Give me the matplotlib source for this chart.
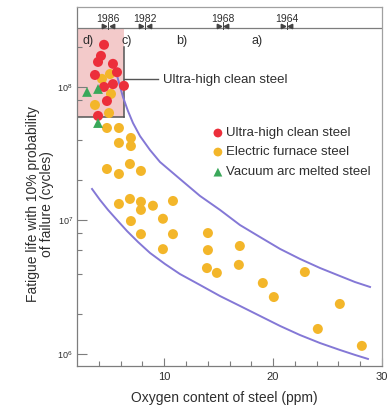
import numpy as np
import matplotlib
matplotlib.use("Agg")
import matplotlib.pyplot as plt
from matplotlib.patches import Rectangle
from matplotlib.ticker import FixedLocator, LogLocator, NullFormatter, FuncFormatter
import matplotlib.transforms as mtransforms

plt.rcParams['font.family'] = ['Liberation Sans', 'DejaVu Sans']
plt.rcParams['mathtext.fontset'] = 'custom'
plt.rcParams['mathtext.rm'] = 'Liberation Sans'
plt.rcParams['mathtext.it'] = 'Liberation Sans:italic'

# ---------------- data ----------------
red_x = [4.48, 4.20, 3.93, 5.30, 5.67, 3.65, 4.48, 5.30, 6.31, 4.75, 3.93]
red_y = [2.07e8, 1.71e8, 1.54e8, 1.49e8, 1.29e8, 1.23e8, 1.00e8, 1.05e8, 1.02e8, 7.85e7, 6.07e7]

green_x = [2.92, 3.93, 3.93]
green_y = [9.18e7, 9.66e7, 5.37e7]

orange_x = [5.03, 4.29, 5.12, 3.65, 4.94, 4.75, 5.85, 5.85, 6.95, 6.95,
            4.75, 5.85, 6.86, 7.87, 5.85, 6.86, 7.87, 7.87, 8.97, 10.81,
            6.95, 9.89, 7.87, 10.81, 9.89, 14.02, 14.02, 16.95, 13.93, 14.84,
            16.86, 22.92, 19.06, 20.07, 26.13, 24.11, 28.15]
orange_y = [1.25e8, 1.15e8, 8.87e7, 7.33e7, 6.38e7, 4.93e7, 4.93e7, 3.81e7, 4.15e7, 3.61e7,
            2.43e7, 2.23e7, 2.65e7, 2.35e7, 1.33e7, 1.45e7, 1.38e7, 1.20e7, 1.29e7, 1.40e7,
            9.9e6, 1.03e7, 7.9e6, 7.9e6, 6.1e6, 8.05e6, 6.0e6, 6.44e6, 4.4e6, 4.05e6,
            4.65e6, 4.11e6, 3.40e6, 2.67e6, 2.37e6, 1.54e6, 1.15e6]

upper_x = [5.49, 5.86, 6.22, 6.68, 7.14, 7.78, 8.70, 9.62, 11.45, 13.29, 15.13,
           16.96, 18.80, 20.64, 22.47, 24.31, 26.14, 27.52, 28.90]
upper_exp = [8.142, 8.030, 7.925, 7.820, 7.730, 7.633, 7.528, 7.438, 7.311, 7.184, 7.079,
             6.966, 6.876, 6.787, 6.712, 6.644, 6.584, 6.539, 6.502]

lower_x = [3.38, 4.11, 4.85, 5.67, 6.59, 7.60, 8.70, 10.08, 11.45, 13.29, 15.13,
           16.96, 18.80, 20.64, 22.47, 24.31, 26.14, 27.52, 28.71]
lower_exp = [7.236, 7.154, 7.079, 7.004, 6.921, 6.839, 6.757, 6.674, 6.599, 6.517, 6.434,
             6.360, 6.285, 6.210, 6.142, 6.082, 6.030, 5.993, 5.963]

year_labels = ['1986', '1982', '1968', '1964']
year_x = [4.84, 8.24, 15.39, 21.27]
region_labels = ['d)', 'c)', 'b)', 'a)']
region_x = [3.0, 6.59, 11.63, 18.5]

legend_labels = ['Ultra-high clean steel', 'Electric furnace steel', 'Vacuum arc melted steel']
callout_label = 'Ultra-high clean steel'

# ---------------- style ----------------
RED = '#ec2f3b'
ORANGE = '#f3b62a'
GREEN = '#3aa85a'
PURPLE = '#8478d6'
PINK = '#f3caca'
AXC = '#7d7d7d'
TXT = '#2e2e2e'

fig = plt.figure(figsize=(3.88, 4.09), dpi=100)
fig.patch.set_facecolor('white')
ax = fig.add_axes([77/388, 43/409, 305/388, 359/409])
ax.set_xscale('linear')
ax.set_yscale('log')
ax.set_xlim(2, 30)
ax.set_ylim(10**5.910, 10**8.599)

hdr = 10**8.442
box_right = 6.31
box_bottom = 6e7

# pink box
ax.add_patch(Rectangle((2, box_bottom), box_right - 2, hdr - box_bottom,
                       facecolor=PINK, edgecolor='none', zorder=0))
ax.plot([2, box_right], [box_bottom, box_bottom], color='#555555', lw=1.1, zorder=1)
ax.plot([box_right, box_right], [box_bottom, 10**8.30], color='#555555', lw=1.1, zorder=1)
ax.plot([box_right, 9.43], [10**8.06, 10**8.06], color='#555555', lw=1.0, zorder=1)
ax.text(9.89, 10**8.055, callout_label, fontsize=9.5, color=TXT, va='center', ha='left')

# header line
ax.axhline(hdr, color=AXC, lw=0.9, zorder=1)

# curves
ax.plot(upper_x, 10**np.array(upper_exp), color=PURPLE, lw=1.4, zorder=2)
ax.plot(lower_x, 10**np.array(lower_exp), color=PURPLE, lw=1.4, zorder=2)

# points
ax.scatter(orange_x, orange_y, s=52, color=ORANGE, edgecolors='none', zorder=3)
ax.scatter(red_x, red_y, s=52, color=RED, edgecolors='none', zorder=4)
ax.scatter(green_x, green_y, s=50, marker='^', color=GREEN, edgecolors='none', zorder=4)

# header year markers
bt = mtransforms.blended_transform_factory(ax.transData, ax.transAxes)
for lab, xv in zip(year_labels, year_x):
    ax.text(xv, 0.966, lab, transform=bt, fontsize=7.5, color=TXT, ha='center', va='center')
    ax.plot([xv - 0.33], [0.948], marker='>', ms=3.2, color='#444444', transform=bt, clip_on=False)
    ax.plot([xv + 0.33], [0.948], marker='<', ms=3.2, color='#444444', transform=bt, clip_on=False)
    ax.plot([xv, xv], [0.938, 0.958], color='#444444', lw=0.7, transform=bt)
for lab, xv in zip(region_labels, region_x):
    ax.text(xv, 0.905, lab, transform=bt, fontsize=9, color=TXT, ha='center', va='center')

# legend (manual)
leg_fy = [0.649, 0.596, 0.540]
leg_cols = [RED, ORANGE, GREEN]
leg_mk = ['o', 'o', '^']
for lab, fy, c, m in zip(legend_labels, leg_fy, leg_cols, leg_mk):
    ax.scatter([0.462], [fy], s=40, marker=m, color=c, edgecolors='none',
               transform=ax.transAxes, zorder=5)
    ax.text(0.490, fy, lab, transform=ax.transAxes, fontsize=9.5, color=TXT,
            ha='left', va='center')

# axes styling
for sp in ax.spines.values():
    sp.set_color(AXC)
    sp.set_linewidth(0.9)
ax.spines['top'].set_color('#a0a0a0')
ax.spines['right'].set_color('#a0a0a0')

ax.xaxis.set_major_locator(FixedLocator([10, 20, 30]))
ax.xaxis.set_minor_locator(FixedLocator([4, 6, 8, 12, 14, 16, 18, 22, 24, 26, 28]))
ax.yaxis.set_major_locator(FixedLocator([1e6, 1e7, 1e8]))
ax.yaxis.set_minor_locator(LogLocator(base=10, subs=[2, 4, 6, 8]))
ax.yaxis.set_minor_formatter(NullFormatter())
ax.yaxis.set_major_formatter(FuncFormatter(lambda v, p: r'$10^{%d}$' % int(round(np.log10(v)))))

ax.tick_params(axis='both', which='both', direction='in', color=AXC, labelcolor=TXT)
ax.tick_params(axis='x', which='major', length=6, width=0.8, labelsize=8, pad=4)
ax.tick_params(axis='x', which='minor', length=3.5, width=0.8)
ax.tick_params(axis='y', which='major', length=7, width=0.8, labelsize=6.5, pad=3)
ax.tick_params(axis='y', which='minor', length=3.5, width=0.8)
ax.tick_params(top=False, right=False, which='both')

fig.text(224/388, (409-398)/409, 'Oxygen content of steel (ppm)', fontsize=10,
         color=TXT, ha='center', va='center')
fig.text(40/388, (409-204)/409, 'Fatigue life with 10% probability\nof failure (cycles)',
         fontsize=10, color=TXT, ha='center', va='center', rotation=90, linespacing=1.05,
         multialignment='center')

fig.savefig('out.png', dpi=100, facecolor='white')
